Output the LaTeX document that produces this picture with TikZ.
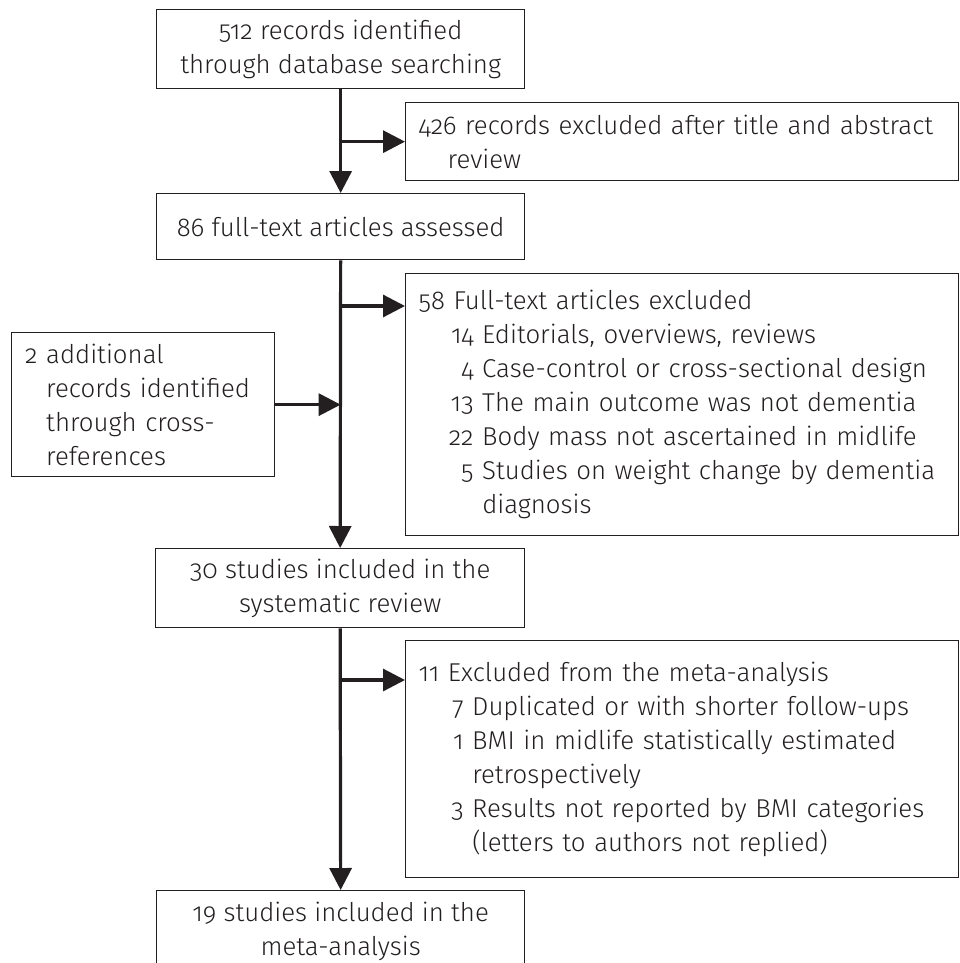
\documentclass[tikz,border=0pt]{standalone}
\usepackage{fontspec}
\setmainfont{Fira Sans Light}[Numbers=OldStyle]
\usetikzlibrary{arrows.meta,positioning}

\definecolor{inkgray}{HTML}{231F20}
\newcommand{\itm}[3]{\makebox[#1][r]{#2}\ #3}

\begin{document}
\begin{tikzpicture}[x=1pt,y=-1pt,
  box/.style={draw=inkgray, line width=1.3, inner sep=0pt, text=inkgray,
    font=\fontsize{25.8}{34}\selectfont, anchor=north west},
  listbox/.style={box, align=left, inner xsep=13pt},
  flow/.style={draw=inkgray, line width=3.2, -{Triangle[length=22pt,width=22pt]}}]

\useasboundingbox (0,0) rectangle (959,963);
\clip (0,0) rectangle (959,963);

% Main boxes
\node [box, align=center, minimum width=368pt, minimum height=79pt] (rec) at (156,9)
  {512 records identified\\through database searching};
\node [box, align=center, minimum width=368pt, minimum height=66pt] (full) at (156,193)
  {86 full-text articles assessed};
\node [box, align=center, minimum width=369pt, minimum height=79pt] (incl) at (155,548)
  {30 studies included in the\\systematic review};
\node [box, align=center, minimum width=368pt, minimum height=82pt] (meta) at (156,890)
  {19 studies included in the\\meta-analysis};

% Side boxes
\node [listbox, text width=527pt, minimum height=78pt] (exclA) at (405,102)
  {426 records excluded after title and abstract\\\hspace*{29pt}review};
\node [listbox, text width=527pt, minimum height=262pt] (exclB) at (405,273)
  {58 Full-text articles excluded\\
   \itm{55pt}{14}{Editorials, overviews, reviews}\\
   \itm{55pt}{4}{Case-control or cross-sectional design}\\
   \itm{55pt}{13}{The main outcome was not dementia}\\
   \itm{55pt}{22}{Body mass not ascertained in midlife}\\
   \itm{55pt}{5}{Studies on weight change by dementia}\\
   \itm{55pt}{}{diagnosis}};
\node [listbox, text width=527pt, minimum height=237pt] (exclC) at (405,640)
  {11 Excluded from the meta-analysis\\
   \itm{45pt}{7}{Duplicated or with shorter follow-ups}\\
   \itm{45pt}{1}{BMI in midlife statistically estimated}\\
   \itm{45pt}{}{retrospectively}\\
   \itm{45pt}{3}{Results not reported by BMI categories}\\
   \itm{45pt}{}{(letters to authors not replied)}};
\node [listbox, inner xsep=17pt, text width=229pt, minimum height=144pt] (extra) at (11,332)
  {\itm{9pt}{2}{additional}\\
   \itm{9pt}{}{records identified}\\
   \itm{9pt}{}{through cross-}\\
   \itm{9pt}{}{references}};

% Branch points on the main line
\coordinate (jB) at (340,306);
\coordinate (jC) at (340,680);

% Main line
\draw [flow] (rec.south) -- (full.north);
\draw [flow] (full.south) -- (incl.north);
\draw [flow] (incl.south) -- (meta.north);

% Branches
\draw [flow] (rec.south |- exclA.west) -- (exclA.west);
\draw [flow] (jB) -- (jB -| exclB.west);
\draw [flow] (extra.east) -- (extra.east -| full.south);
\draw [flow] (jC) -- (jC -| exclC.west);

\end{tikzpicture}
\end{document}
